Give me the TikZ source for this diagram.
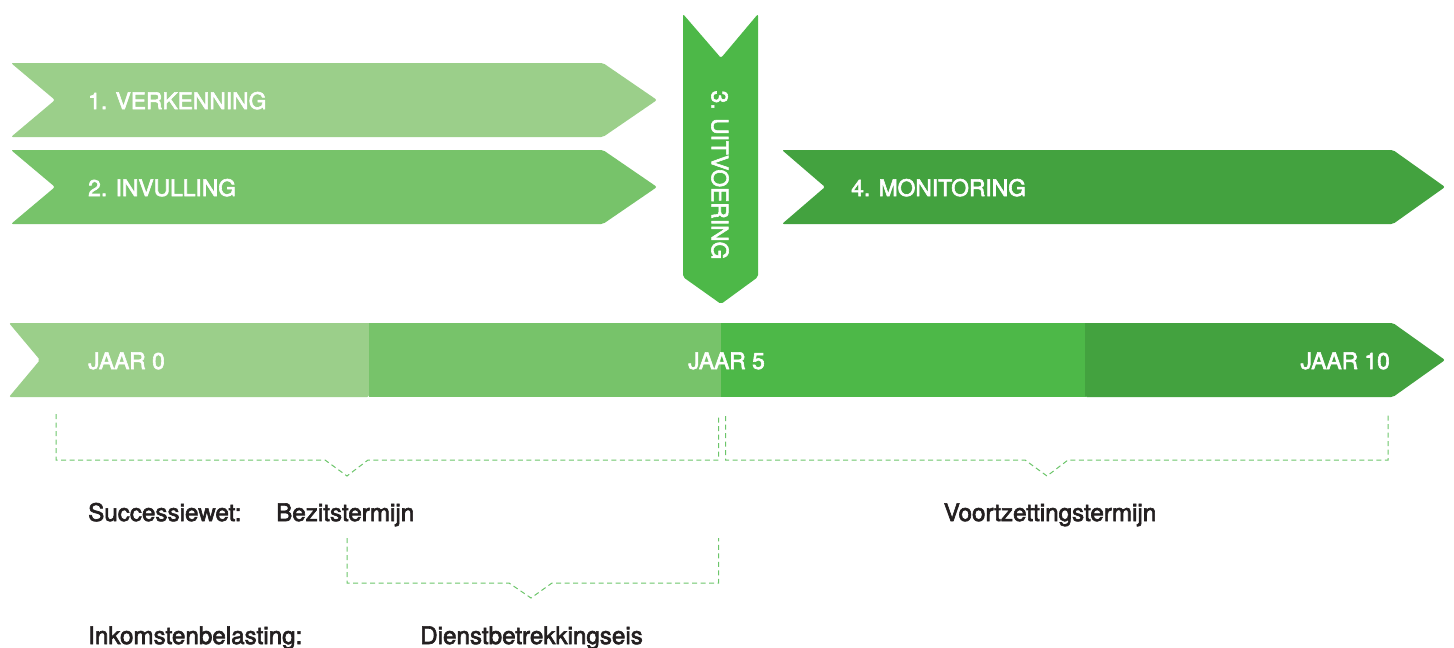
\documentclass[tikz,border=0pt]{standalone}
\usepackage{fontspec}
\setmainfont{TeX Gyre Heros}
\newfontfamily\medfont[FakeBold=2.6]{TeX Gyre Heros}
\definecolor{gA}{HTML}{9BCF8A}
\definecolor{gB}{HTML}{77C36A}
\definecolor{gC}{HTML}{4DB848}
\definecolor{gD}{HTML}{43A23F}
\definecolor{dashc}{HTML}{6CC56A}
\definecolor{txt}{HTML}{231F20}
\begin{document}
\begin{tikzpicture}[x=1pt,y=-1pt,
  arrowshape/.style={rounded corners=2pt},
  wlabel/.style={text=white,font=\fontsize{22.8}{27}\medfont,inner sep=0pt},
  blabel/.style={text=txt,font=\fontsize{24.2}{28}\medfont,inner sep=0pt},
  bracket/.style={draw=dashc,line width=1pt,dash pattern=on 5pt off 3.5pt}]
\useasboundingbox (0,0) rectangle (1454,648);
% phase arrows
\fill[gA,arrowshape] (11,63) -- (603,63) -- (657,100) -- (603,137) -- (11,137) -- (55,100) -- cycle;
\fill[gB,arrowshape] (11,150) -- (603,150) -- (657,187) -- (603,224) -- (11,224) -- (55,187) -- cycle;
\fill[gC,arrowshape] (683,14) -- (721,58) -- (758,14) -- (758,277) -- (721,304) -- (683,277) -- cycle;
\fill[gD,arrowshape] (782,150) -- (1393,150) -- (1445,187) -- (1393,224) -- (782,224) -- (825,187) -- cycle;
\node[wlabel,anchor=base west] (p1) at (88,109) {1. VERKENNING};
\node[wlabel,anchor=base west] (p2) at (88,196) {2. INVULLING};
\node[wlabel,rotate=-90] (p3) at (720,175) {3. UITVOERING};
\node[wlabel,anchor=base west] (p4) at (851,196) {4. MONITORING};
% timeline bar
\fill[gA,rounded corners=2pt] (369,323) -- (9,323) -- (40,360) -- (9,397) -- (369,397) [sharp corners] -- cycle;
\fill[gB] (368.5,323) rectangle (721.5,397);
\fill[gC] (721,323) rectangle (1085.5,397);
\fill[gD,rounded corners=2pt] (1085,323) -- (1393,323) -- (1445,360) -- (1393,397) -- (1085,397) [sharp corners] -- cycle;
\node[wlabel,anchor=base west] (j0) at (88,369) {JAAR 0};
\node[wlabel,anchor=base east] (j5) at (765,369) {JAAR 5};
\node[wlabel,anchor=base east] (j10) at (1390,369) {JAAR 10};
% brackets
\coordinate (b1a) at (56,414);
\coordinate (b1v) at (347,476);
\coordinate (b1b) at (718.5,416);
\coordinate (b2a) at (725.5,416);
\coordinate (b2v) at (1047,476);
\coordinate (b2b) at (1388,414);
\coordinate (b3a) at (347,538);
\coordinate (b3v) at (531,598);
\coordinate (b3b) at (718.5,538);
\draw[bracket] (b1a) -- (56,460) -- (325,460) -- (b1v) -- (368,460) -- (718.5,460) -- (b1b);
\draw[bracket] (b2a) -- (725.5,460) -- (1025,460) -- (b2v) -- (1068,460) -- (1388,460) -- (b2b);
\draw[bracket] (b3a) -- (347,583) -- (509,583) -- (b3v) -- (552,583) -- (718.5,583) -- (b3b);
% legal texts
\node[blabel,anchor=base west] (sw) at (88,521) {Successiewet:};
\node[blabel,anchor=base west] (bz) at (276,521) {Bezitstermijn};
\node[blabel,anchor=base] (vz) at (1050,521) {Voortzettingstermijn};
\node[blabel,anchor=base west] (ib) at (88,644) {Inkomstenbelasting:};
\node[blabel,anchor=base west] (db) at (420,644) {Dienstbetrekkingseis};
\end{tikzpicture}
\end{document}
